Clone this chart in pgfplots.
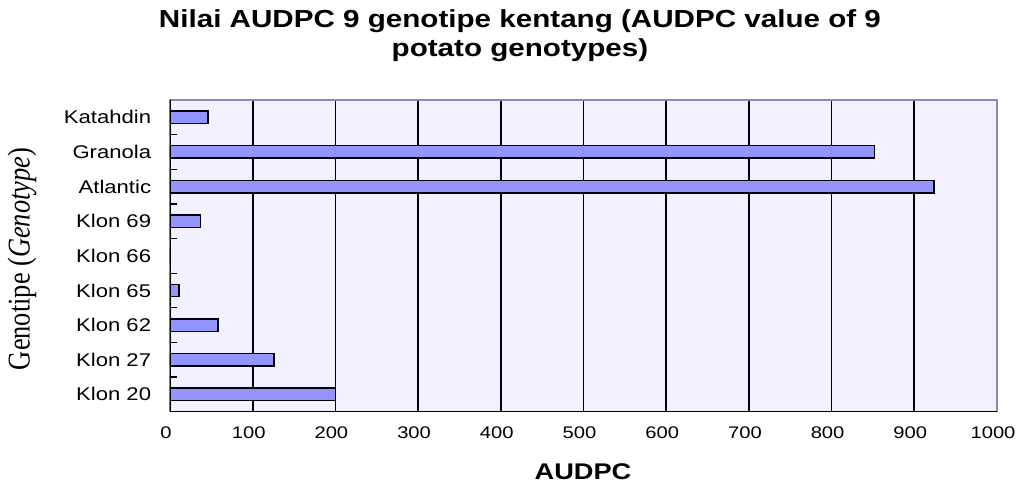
\documentclass[border=0pt]{standalone}
\usepackage{fontspec}
\setmainfont{Liberation Sans}[FakeStretch=1.2]
\newfontfamily\serifl{Liberation Serif}
\usepackage{pgfplots}
\pgfplotsset{compat=1.18}
\definecolor{bgc}{HTML}{F1F1FF}
\definecolor{barc}{HTML}{9494FF}
\definecolor{framec}{HTML}{8A8AB8}
\begin{document}
\begin{tikzpicture}
\useasboundingbox (-127.5pt,-55pt) rectangle (635.25pt,308.8pt);
\begin{axis}[
  at={(0,0)}, anchor=south west,
  scale only axis, width=620.25pt, height=233.8pt,
  xbar, bar width=0.36,
  xmin=0, xmax=1000, ymin=-0.5, ymax=8.5,
  xtick={0,100,...,1000},
  ytick={0,1,...,8},
  yticklabels={Klon 20,Klon 27,Klon 62,Klon 65,Klon 66,Klon 69,Atlantic,Granola,Katahdin},
  minor ytick={0.5,1.5,...,7.5},
  ytick pos=left,
  major tick length=0pt,
  minor tick length=5pt,
  tick align=inside,
  tick style={black, line width=1pt},
  xmajorgrids,
  major grid style={black, line width=1.3pt},
  axis background/.style={fill=bgc},
  axis line style={framec, line width=1pt},
  /pgf/number format/assume math mode=true,
  /pgf/number format/1000 sep={},
  ticklabel style={font=\fontsize{13.8}{15}\selectfont, inner sep=0pt},
  xticklabel style={yshift=-11pt, xshift=-3pt, font=\fontsize{12.6}{15}\selectfont},
  yticklabel style={xshift=-14pt},
  title={Nilai AUDPC 9 genotipe kentang (AUDPC value of 9\\potato genotypes)},
  title style={at={(rel axis cs:0.4232,1.18)}, anchor=center, align=center,
    font=\fontsize{18.5}{22}\selectfont\bfseries},
  xlabel={AUDPC},
  xlabel style={at={(rel axis cs:0.4994,-0.193)}, anchor=center,
    font=\fontsize{17}{20}\selectfont\bfseries},
  ylabel={\scalebox{1}[1.2]{\serifl Genotipe (\textit{Genotype})}},
  ylabel style={at={(rel axis cs:-0.179,0.49)}, anchor=center, rotate=0,
    font=\fontsize{19.8}{22}\selectfont},
]
\addplot[fill=barc, draw=black, line width=1.1pt] coordinates {
  (200,0) (126,1) (58,2) (11,3) (0,4) (37,5) (924,6) (852,7) (46,8)
};
\draw[black, line width=1.3pt] (rel axis cs:0,1) -- (rel axis cs:0,0) -- (rel axis cs:1,0);
\end{axis}
\end{tikzpicture}
\end{document}
